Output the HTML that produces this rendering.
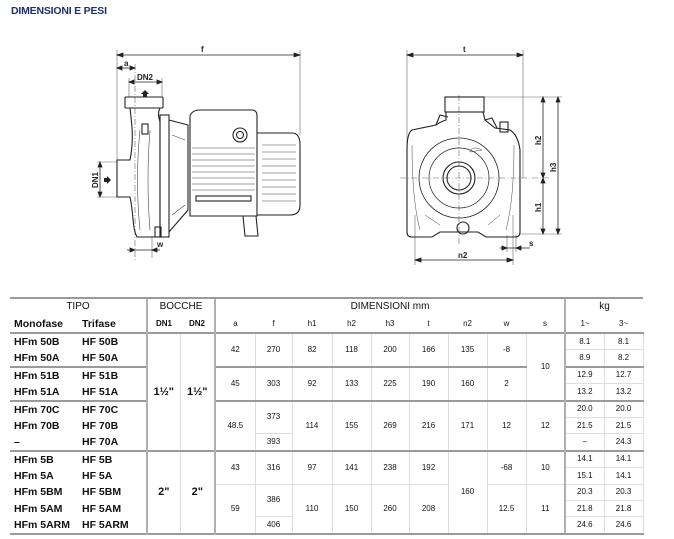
<!DOCTYPE html>
<html><head><meta charset="utf-8"><style>
body{margin:0;background:#fff;width:674px;height:539px;position:relative;overflow:hidden;font-family:"Liberation Sans",sans-serif;}
.title{position:absolute;left:11px;top:5px;font-size:10.5px;font-weight:bold;color:#1f2f6e;letter-spacing:-0.2px}
svg.d{position:absolute;left:0;top:0}
table{position:absolute;left:10px;top:297px;border-collapse:collapse;table-layout:fixed;width:633px;color:#111;border-bottom:2px solid #9a9a9a}
td{padding:0;text-align:center;vertical-align:middle;font-size:8px;height:15.4px;border:1px solid #dedede;white-space:nowrap;overflow:hidden;line-height:10px}
tr.h1 td{height:16px;font-size:10px;border-top:2px solid #9a9a9a;border-left:none;border-right:none;border-bottom:none}
tr.h2 td{height:17px;font-size:8px;border-top:none;border-left:none;border-right:none}
tr.h2 td.b{font-size:10.5px;font-weight:bold;text-align:left;padding-left:4px}
tr.h2 td.bc{font-weight:bold;font-size:8px}
td.m{font-weight:bold;font-size:10.5px;text-align:left;padding-left:4px;border-left:none;border-right:none;border-top:none;border-bottom:none}
td.big{font-weight:bold;font-size:11px}
tr.g td{border-top:2px solid #9a9a9a}
tr.last td{border-bottom:2px solid #9a9a9a}
.vl{border-left:2px solid #b0b0b0 !important}
</style></head><body>
<div class="title">DIMENSIONI E PESI</div>
<svg class="d" width="674" height="290" viewBox="0 0 674 290" fill="none" stroke="#222" stroke-width="1">
<g stroke="#666" stroke-width="0.6">
<line x1="117" y1="50" x2="117" y2="165"/><line x1="300" y1="50" x2="300" y2="135"/>
<line x1="135" y1="64" x2="135" y2="260" stroke-dasharray="6,2,1,2"/>
<line x1="129" y1="78" x2="129" y2="97"/><line x1="162" y1="78" x2="162" y2="97"/>
<line x1="97" y1="162" x2="117" y2="162"/><line x1="97" y1="197" x2="117" y2="197"/>
<line x1="152" y1="236" x2="152" y2="258"/>
</g>
<g stroke="#222" stroke-width="0.8">
<line x1="117" y1="55" x2="300" y2="55"/><path d="M117 55l6-2v4zM300 55l-6-2v4z" fill="#222"/>
<line x1="117" y1="68" x2="135" y2="68"/><path d="M117 68l5-2v4zM135 68l-5-2v4z" fill="#222"/>
<line x1="129" y1="82" x2="162" y2="82"/><path d="M129 82l5-2v4zM162 82l-5-2v4z" fill="#222"/>
<line x1="100" y1="162" x2="100" y2="197"/><path d="M100 162l-2 5h4zM100 197l-2-5h4z" fill="#222"/>
<line x1="127" y1="250" x2="160" y2="250"/><path d="M135 250l-5-2v4zM152 250l5-2v4z" fill="#222"/>
</g>
<g fill="#222" stroke="none" font-family="Liberation Sans" font-weight="bold" font-size="8">
<text x="201" y="52">f</text><text x="124" y="66">a</text><text x="137" y="80">DN2</text>
<text x="0" y="0" transform="translate(98,188) rotate(-90)">DN1</text><text x="157" y="247">w</text>
<path d="M141 94l4-4 4 4h-2v3h-4v-3z"/><path d="M105 180l4-4v2h3v4h-3v2z" transform="rotate(180 108 180)"/>
</g>
<g stroke-width="1.1">
<rect x="125" y="97" width="38" height="11" rx="1"/>
<path d="M130 108 C132 125,134 140,130 160 L117 160 L117 197 L130 197 C134 215,132 228,137 237 L160 237 L160 122 C158 115,158 112,160 108"/>
<rect x="160" y="115" width="9" height="122"/>
<path d="M169 120 L188 125 L188 210 L169 232"/>
<path d="M190 116 Q192 110 200 110 L252 110 Q257 110 257 116 L257 216 L190 216 Z"/>
<path d="M257 133 L292 133 Q300 133 300 145 L300 205 Q300 215 290 215 L257 215"/>
<path d="M243 216 L245 236 L258 236 L256 216"/>
<circle cx="240" cy="135" r="7"/><circle cx="240" cy="135" r="3.5"/>
<rect x="196" y="196" width="55" height="5"/>
<rect x="155" y="227" width="6" height="10"/><rect x="142" y="124" width="6" height="10"/>
</g>
<g stroke="#444" stroke-width="0.6">
<line x1="192" y1="148" x2="255" y2="148"/><line x1="192" y1="154" x2="255" y2="154"/><line x1="192" y1="160" x2="255" y2="160"/><line x1="192" y1="166" x2="255" y2="166"/><line x1="192" y1="172" x2="255" y2="172"/><line x1="192" y1="178" x2="255" y2="178"/><line x1="192" y1="184" x2="255" y2="184"/><line x1="192" y1="190" x2="255" y2="190"/>
<line x1="262" y1="145" x2="296" y2="145"/><line x1="262" y1="152" x2="296" y2="152"/><line x1="262" y1="159" x2="296" y2="159"/><line x1="262" y1="166" x2="296" y2="166"/><line x1="262" y1="173" x2="296" y2="173"/><line x1="262" y1="180" x2="296" y2="180"/><line x1="262" y1="187" x2="296" y2="187"/><line x1="262" y1="194" x2="296" y2="194"/><line x1="262" y1="201" x2="296" y2="201"/>
<path d="M140 130 Q135 180 140 230 M150 130 Q146 180 150 230"/>
<path d="M172 135 L185 140 M172 215 L185 205"/>
</g>
<g stroke="#666" stroke-width="0.6">
<line x1="407" y1="50" x2="407" y2="235"/><line x1="523" y1="50" x2="523" y2="178"/>
<line x1="483" y1="97" x2="562" y2="97"/><line x1="520" y1="234" x2="562" y2="234"/>
<line x1="400" y1="178" x2="550" y2="178" stroke-dasharray="6,2,1,2"/>
<line x1="415" y1="215" x2="415" y2="265"/><line x1="513" y1="215" x2="513" y2="265"/>
<line x1="507" y1="235" x2="507" y2="252"/><line x1="516" y1="235" x2="516" y2="252"/>
<line x1="459" y1="95" x2="459" y2="245" stroke-dasharray="6,2,1,2"/>
</g>
<g stroke="#222" stroke-width="0.8">
<line x1="407" y1="55" x2="523" y2="55"/><path d="M407 55l6-2v4zM523 55l-6-2v4z" fill="#222"/>
<line x1="543" y1="97" x2="543" y2="234"/><path d="M543 97l-2 5h4zM543 178l-2-5h4zM543 178l-2 5h4zM543 234l-2-5h4z" fill="#222"/>
<line x1="558" y1="97" x2="558" y2="234"/><path d="M558 97l-2 5h4zM558 234l-2-5h4z" fill="#222"/>
<line x1="415" y1="260" x2="513" y2="260"/><path d="M415 260l6-2v4zM513 260l-6-2v4z" fill="#222"/>
<line x1="500" y1="248" x2="530" y2="248"/><path d="M507 248l-5-2v4zM516 248l5-2v4z" fill="#222"/>
</g>
<g fill="#222" stroke="none" font-family="Liberation Sans" font-weight="bold" font-size="8">
<text x="463" y="52">t</text><text x="458" y="258">n2</text><text x="529" y="246">s</text>
<text transform="translate(541,145) rotate(-90)">h2</text><text transform="translate(556,172) rotate(-90)">h3</text><text transform="translate(541,212) rotate(-90)">h1</text>
</g>
<g stroke-width="1.1">
<rect x="445" y="97" width="39" height="15"/>
<path d="M446 112 L446 120 Q440 122 436 125 L412 130 Q407 133 407 150 L407 232 Q407 237 412 237 L432 237 L440 232 L478 232 L486 237 L515 237 Q520 237 520 232 L520 150 Q518 135 510 130 L495 128 L485 120 L483 112"/>
<circle cx="459" cy="178" r="40" stroke-width="0.8"/><circle cx="459" cy="178" r="30" stroke-width="0.7"/>
<circle cx="459" cy="178" r="16"/><circle cx="459" cy="178" r="12"/>
<circle cx="463" cy="228" r="6"/><rect x="500" y="122" width="8" height="10"/>
<path d="M436 125 L440 115 L448 117" /><path d="M485 120 L492 118 L497 128"/>
</g>
<g stroke="#444" stroke-width="0.5">
<path d="M412 145 Q412 200 420 230 M514 145 Q514 200 506 230 M470 150 Q475 146 482 150 L470 152 Z"/>
<path d="M425 215 L440 225 M500 215 L488 225"/>
</g>
</svg>
<table>
<colgroup><col style="width:68px"><col style="width:69px"><col style="width:33px"><col style="width:35px"><col style="width:40px"><col style="width:37px"><col style="width:40px"><col style="width:39px"><col style="width:38px"><col style="width:39px"><col style="width:39px"><col style="width:39px"><col style="width:39px"><col style="width:39px"><col style="width:39px"></colgroup>
<tr class="h1"><td colspan="2">TIPO</td><td colspan="2" class="vl">BOCCHE</td><td colspan="9" class="vl">DIMENSIONI mm</td><td colspan="2" class="vl">kg</td></tr>
<tr class="h2"><td class="b">Monofase</td><td class="b">Trifase</td><td class="bc vl">DN1</td><td class="bc">DN2</td><td class="vl">a</td><td>f</td><td>h1</td><td>h2</td><td>h3</td><td>t</td><td>n2</td><td>w</td><td>s</td><td class="vl">1~</td><td>3~</td></tr>
<tr class="g"><td class="m">HFm 50B</td><td class="m">HF 50B</td><td rowspan="7" class="big vl">1½"</td><td rowspan="7" class="big">1½"</td><td rowspan="2" class="vl">42</td><td rowspan="2">270</td><td rowspan="2">82</td><td rowspan="2">118</td><td rowspan="2">200</td><td rowspan="2">166</td><td rowspan="2">135</td><td rowspan="2">-8</td><td rowspan="4">10</td><td class="vl">8.1</td><td>8.1</td></tr>
<tr><td class="m">HFm 50A</td><td class="m">HF 50A</td><td class="vl">8.9</td><td>8.2</td></tr>
<tr class="g"><td class="m">HFm 51B</td><td class="m">HF 51B</td><td rowspan="2" class="vl">45</td><td rowspan="2">303</td><td rowspan="2">92</td><td rowspan="2">133</td><td rowspan="2">225</td><td rowspan="2">190</td><td rowspan="2">160</td><td rowspan="2">2</td><td class="vl">12.9</td><td>12.7</td></tr>
<tr><td class="m">HFm 51A</td><td class="m">HF 51A</td><td class="vl">13.2</td><td>13.2</td></tr>
<tr class="g"><td class="m">HFm 70C</td><td class="m">HF 70C</td><td rowspan="3" class="vl">48.5</td><td rowspan="2">373</td><td rowspan="3">114</td><td rowspan="3">155</td><td rowspan="3">269</td><td rowspan="3">216</td><td rowspan="3">171</td><td rowspan="3">12</td><td rowspan="3">12</td><td class="vl">20.0</td><td>20.0</td></tr>
<tr><td class="m">HFm 70B</td><td class="m">HF 70B</td><td class="vl">21.5</td><td>21.5</td></tr>
<tr><td class="m">–</td><td class="m">HF 70A</td><td>393</td><td class="vl">–</td><td>24.3</td></tr>
<tr class="g"><td class="m">HFm 5B</td><td class="m">HF 5B</td><td rowspan="5" class="big vl">2"</td><td rowspan="5" class="big">2"</td><td rowspan="2" class="vl">43</td><td rowspan="2">316</td><td rowspan="2">97</td><td rowspan="2">141</td><td rowspan="2">238</td><td rowspan="2">192</td><td rowspan="5">160</td><td rowspan="2">-68</td><td rowspan="2">10</td><td class="vl">14.1</td><td>14.1</td></tr>
<tr><td class="m">HFm 5A</td><td class="m">HF 5A</td><td class="vl">15.1</td><td>14.1</td></tr>
<tr><td class="m">HFm 5BM</td><td class="m">HF 5BM</td><td rowspan="3" class="vl">59</td><td rowspan="2">386</td><td rowspan="3">110</td><td rowspan="3">150</td><td rowspan="3">260</td><td rowspan="3">208</td><td rowspan="3">12.5</td><td rowspan="3">11</td><td class="vl">20.3</td><td>20.3</td></tr>
<tr><td class="m">HFm 5AM</td><td class="m">HF 5AM</td><td class="vl">21.8</td><td>21.8</td></tr>
<tr class="last"><td class="m">HFm 5ARM</td><td class="m">HF 5ARM</td><td>406</td><td class="vl">24.6</td><td>24.6</td></tr>
</table>
</body></html>
